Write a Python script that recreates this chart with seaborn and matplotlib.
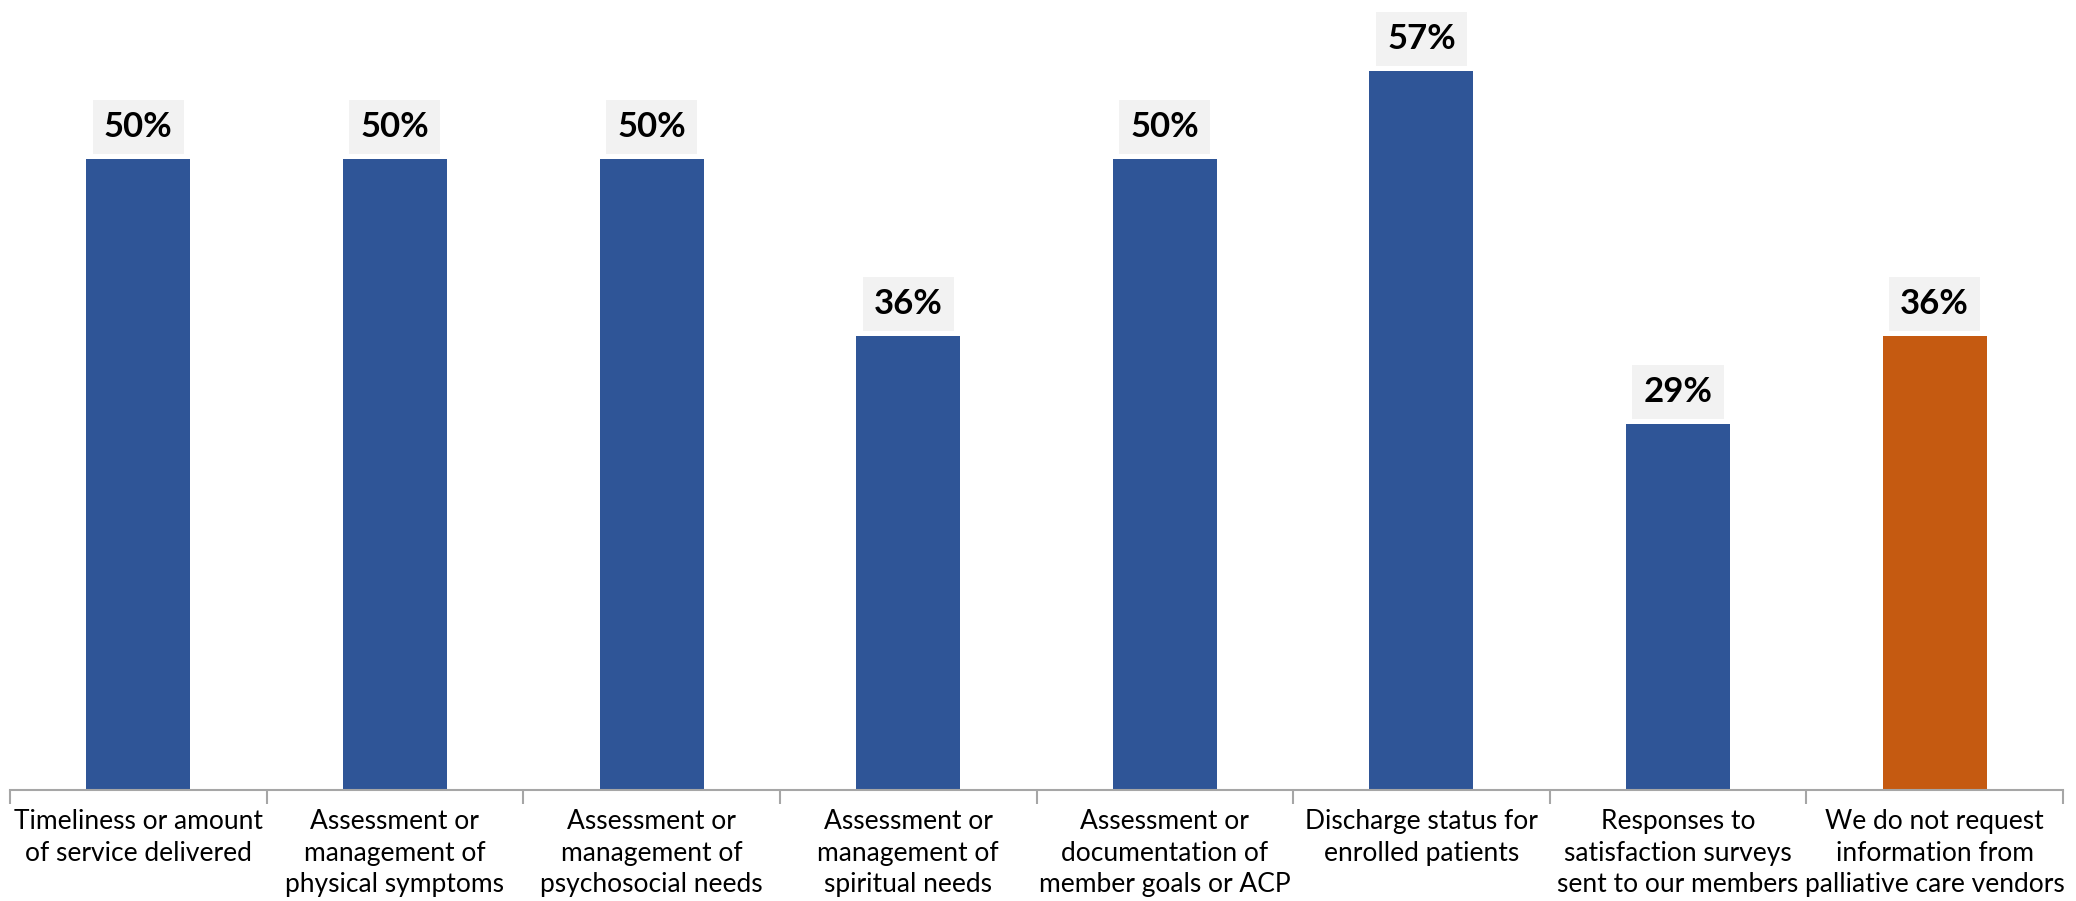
import matplotlib
matplotlib.use("Agg")
import matplotlib.pyplot as plt
import seaborn as sns
import pandas as pd

categories = [
    "Timeliness or amount\nof service delivered",
    "Assessment or\nmanagement of\nphysical symptoms",
    "Assessment or\nmanagement of\npsychosocial needs",
    "Assessment or\nmanagement of\nspiritual needs",
    "Assessment or\ndocumentation of\nmember goals or ACP",
    "Discharge status for\nenrolled patients",
    "Responses to\nsatisfaction surveys\nsent to our members",
    "We do not request\ninformation from\npalliative care vendors",
]
values = [50, 50, 50, 36, 50, 57, 29, 36]
bar_colors = ["#2F5597"] * 7 + ["#C55A11"]

sns.set_theme(style="white")
plt.rcParams["font.family"] = ["Lato", "DejaVu Sans"]

df = pd.DataFrame({"category": categories, "value": values})

fig = plt.figure(figsize=(20.76, 9.01), dpi=100)
ax = fig.add_axes([10 / 2076, 1 - 790 / 901, (2063 - 10) / 2076, 790 / 901])

sns.barplot(data=df, x="category", y="value", hue="category",
            palette=bar_colors, legend=False, width=0.405, ax=ax,
            saturation=1, edgecolor="none")

ax.set_xlim(-0.5, len(categories) - 0.5)
ax.set_ylim(0, 62.6)
ax.set_xlabel("")
ax.set_ylabel("")
ax.set_yticks([])

for side in ["top", "right", "left"]:
    ax.spines[side].set_visible(False)
ax.spines["bottom"].set_color("#A6A6A6")
ax.spines["bottom"].set_linewidth(1.5)

# category labels centred, separator ticks between categories
ax.set_xticks(range(len(categories)))
ax.set_xticklabels(categories, fontsize=19, color="#000000", linespacing=1.32)
ax.set_xticks([i - 0.5 for i in range(len(categories) + 1)], minor=True)
ax.tick_params(axis="x", which="major", length=0, pad=14)
ax.tick_params(axis="x", which="minor", length=10, width=1.5, color="#A6A6A6",
               bottom=True, direction="out")

for i, v in enumerate(values):
    ax.annotate(f"{v}%", xy=(i, v), xytext=(0, 23), textcoords="offset points",
                ha="center", va="center", fontsize=25, fontweight="bold",
                color="#000000",
                bbox=dict(boxstyle="square,pad=0.32", facecolor="#F2F2F2",
                          edgecolor="none"))

fig.savefig("out.png", dpi=100)
